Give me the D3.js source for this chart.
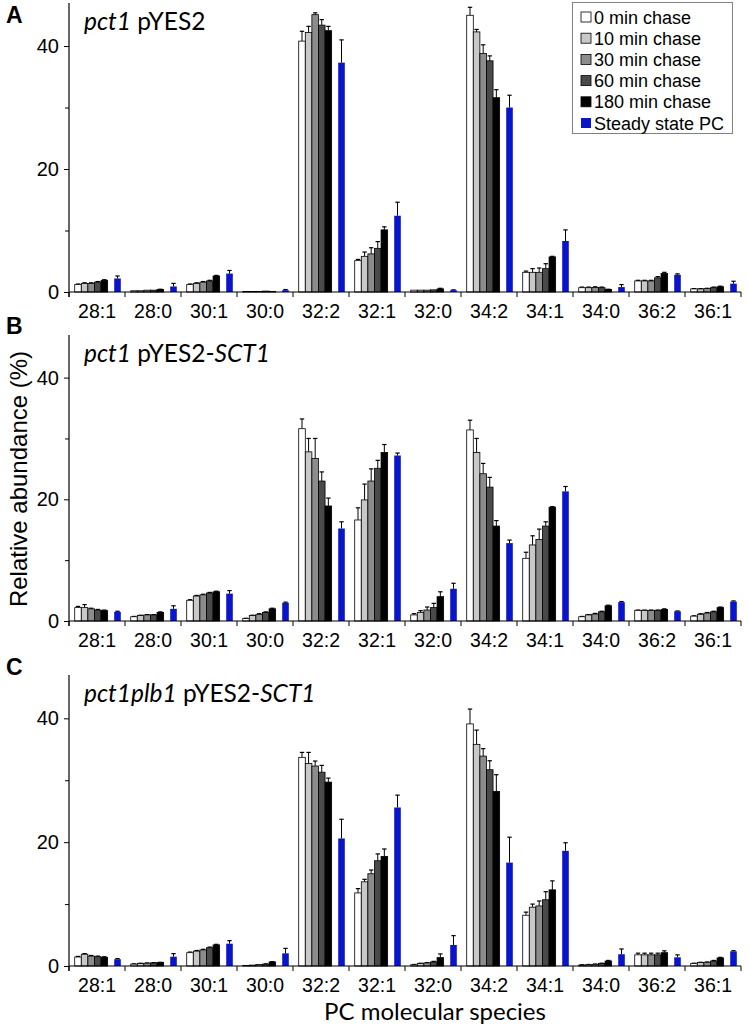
<!DOCTYPE html>
<html><head><meta charset="utf-8">
<script src="https://cdn.jsdelivr.net/npm/d3@7"></script>
<style>body{margin:0;background:#fff}</style>
</head><body>
<script>
const categories = ["28:1","28:0","30:1","30:0","32:2","32:1","32:0","34:2","34:1","34:0","36:2","36:1"];
const seriesNames = ["0 min chase","10 min chase","30 min chase","60 min chase","180 min chase","Steady state PC"];
const seriesColors = ["#ffffff","#c8c8c8","#8c8c8c","#4a4a4a","#000000","#0a14c8"];
const yTicks = [0, 20, 40];
const yMinorTicks = [10, 30];

// Panel A: pct1 pYES2
const A_min0   = [1.2, 0.2, 1.2, 0.1, 40.8, 5.1, 0.3, 45.0, 3.2, 0.7, 1.8, 0.5];
const A_min10  = [1.4, 0.2, 1.4, 0.1, 42.2, 5.8, 0.3, 42.3, 3.2, 0.7, 1.8, 0.5];
const A_min30  = [1.4, 0.3, 1.6, 0.1, 45.1, 6.2, 0.3, 38.8, 3.2, 0.75, 1.8, 0.55];
const A_min60  = [1.6, 0.3, 1.8, 0.15, 43.4, 7.1, 0.35, 37.6, 3.8, 0.7, 2.3, 0.7];
const A_min180 = [1.9, 0.4, 2.6, 0.1, 42.5, 10.1, 0.5, 31.6, 5.7, 0.4, 3.0, 0.85];
const A_steady = [2.2, 0.9, 3.0, 0.3, 37.3, 12.4, 0.3, 30.0, 8.3, 0.8, 2.8, 1.35];
const A_err0   = [0.1, 0, 0.1, 0, 1.6, 0.2, 0, 1.3, 0.2, 0.1, 0.1, 0.05];
const A_err10  = [0.1, 0, 0.1, 0, 1.0, 0.7, 0, 0.4, 0.6, 0.1, 0.1, 0.05];
const A_err30  = [0.1, 0, 0.1, 0, 0.3, 1.0, 0, 1.4, 0.7, 0.1, 0.1, 0.05];
const A_err60  = [0.1, 0, 0.1, 0, 0.9, 1.1, 0, 0.8, 0.8, 0.1, 0.2, 0.1];
const A_err180 = [0.1, 0.05, 0.1, 0, 0.7, 0.5, 0.1, 1.3, 0.1, 0.05, 0.2, 0.1];
const A_errS   = [0.4, 0.5, 0.5, 0.1, 3.7, 2.2, 0.05, 2.0, 1.8, 0.4, 0.15, 0.4];

// Panel B: pct1 pYES2-SCT1
const B_min0   = [2.2, 0.7, 3.4, 0.4, 31.6, 16.6, 1.0, 31.4, 10.3, 0.7, 1.75, 0.8];
const B_min10  = [2.2, 0.9, 4.1, 0.9, 27.8, 19.9, 1.4, 27.7, 12.5, 1.0, 1.75, 1.1];
const B_min30  = [2.0, 1.0, 4.3, 1.1, 26.7, 23.0, 1.8, 24.2, 13.4, 1.15, 1.75, 1.3];
const B_min60  = [1.8, 1.0, 4.6, 1.4, 23.0, 25.1, 2.2, 22.0, 15.6, 1.5, 1.75, 1.5];
const B_min180 = [1.7, 1.4, 4.8, 2.0, 18.9, 27.7, 4.0, 15.6, 18.7, 2.5, 1.9, 2.2];
const B_steady = [1.5, 2.0, 4.5, 3.0, 15.2, 27.2, 5.3, 12.8, 21.3, 3.1, 1.6, 3.2];
const B_err0   = [0.2, 0.05, 0.1, 0.05, 1.6, 2.0, 0.2, 1.6, 1.0, 0.05, 0.05, 0.05];
const B_err10  = [0.5, 0.05, 0.1, 0.05, 2.2, 2.6, 0.3, 2.3, 1.5, 0.05, 0.05, 0.1];
const B_err30  = [0.1, 0.05, 0.1, 0.1, 3.3, 2.0, 0.5, 1.7, 1.7, 0.1, 0.05, 0.1];
const B_err60  = [0.1, 0.05, 0.1, 0.1, 1.5, 1.3, 0.7, 1.6, 0.7, 0.1, 0.05, 0.1];
const B_err180 = [0.1, 0.1, 0.1, 0.1, 1.3, 1.3, 0.8, 0.9, 0.1, 0.1, 0.1, 0.1];
const B_errS   = [0.1, 0.5, 0.5, 0.1, 1.1, 0.4, 0.9, 0.5, 0.8, 0.1, 0.05, 0.1];

// Panel C: pct1plb1 pYES2-SCT1
const C_min0   = [1.45, 0.3, 2.15, 0.1, 33.7, 11.8, 0.2, 39.1, 8.2, 0.15, 1.8, 0.4];
const C_min10  = [1.9, 0.4, 2.4, 0.15, 32.7, 13.6, 0.4, 35.8, 9.5, 0.2, 1.8, 0.55];
const C_min30  = [1.6, 0.45, 2.6, 0.25, 32.3, 14.9, 0.5, 33.9, 9.7, 0.27, 1.8, 0.6];
const C_min60  = [1.5, 0.5, 2.95, 0.3, 31.3, 17.0, 0.65, 31.7, 10.7, 0.4, 1.8, 0.8];
const C_min180 = [1.4, 0.55, 3.4, 0.65, 29.7, 17.7, 1.35, 28.2, 12.3, 0.8, 2.15, 1.3];
const C_steady = [1.1, 1.5, 3.6, 2.05, 20.6, 25.6, 3.4, 16.7, 18.6, 1.9, 1.4, 2.37];
const C_err0   = [0.1, 0.05, 0.1, 0, 0.8, 0.7, 0.05, 2.4, 0.5, 0.05, 0.27, 0.05];
const C_err10  = [0.1, 0.05, 0.1, 0, 1.8, 0.4, 0.05, 2.3, 0.5, 0.05, 0.27, 0.05];
const C_err30  = [0.1, 0.05, 0.1, 0, 0.8, 0.6, 0.05, 1.2, 0.8, 0.05, 0.27, 0.05];
const C_err60  = [0.1, 0.05, 0.1, 0.05, 1.1, 1.1, 0.1, 1.45, 1.3, 0.05, 0.27, 0.1];
const C_err180 = [0.1, 0.05, 0.1, 0.05, 0.65, 1.2, 0.6, 2.7, 1.45, 0.1, 0.3, 0.1];
const C_errS   = [0.1, 0.5, 0.5, 0.8, 3.1, 2.0, 1.5, 4.1, 1.3, 0.85, 0.4, 0.1];

const panels = [
  {letter:"A", letterY:23, title:[["pct1",true],[" pYES2",false]], top:3, bottom:292,
   values:[A_min0,A_min10,A_min30,A_min60,A_min180,A_steady],
   errors:[A_err0,A_err10,A_err30,A_err60,A_err180,A_errS]},
  {letter:"B", letterY:334, title:[["pct1",true],[" pYES2-",false],["SCT1",true]], top:335, bottom:621,
   values:[B_min0,B_min10,B_min30,B_min60,B_min180,B_steady],
   errors:[B_err0,B_err10,B_err30,B_err60,B_err180,B_errS]},
  {letter:"C", letterY:675, title:[["pct1plb1",true],[" pYES2-",false],["SCT1",true]], top:675, bottom:966,
   values:[C_min0,C_min10,C_min30,C_min60,C_min180,C_steady],
   errors:[C_err0,C_err10,C_err30,C_err60,C_err180,C_errS]}
];

const W = 748, H = 1027;
const svg = d3.select("body").append("svg").attr("width", W).attr("height", H);
const tickFont = "'Liberation Sans', Arial, sans-serif";
const titleFont = "Lato, 'Open Sans', sans-serif";

const x0 = d3.scaleBand().domain(categories).range([69, 741]);
const bw = x0.bandwidth();
const slots = ["s0","s1","s2","s3","s4","gap","s5"];
const slotOf = [0,1,2,3,4,6];
const x1 = d3.scaleBand().domain(slots).range([0.102*bw, 0.925*bw]);

panels.forEach(p => {
  const y = d3.scaleLinear().domain([0, 47]).range([p.bottom, p.top]);
  const g = svg.append("g");

  p.values.forEach((vals, si) => {
    const color = seriesColors[si];
    const slot = slots[slotOf[si]];
    vals.forEach((v, ci) => {
      const bx = x0(categories[ci]) + x1(slot);
      const e = p.errors[si][ci];
      if (e > 0) {
        const cx = bx + x1.bandwidth()/2;
        g.append("line").attr("x1", cx).attr("x2", cx)
          .attr("y1", y(v)).attr("y2", y(v + e))
          .attr("stroke", "#000").attr("stroke-width", 1);
        g.append("line").attr("x1", cx - 2.2).attr("x2", cx + 2.2)
          .attr("y1", y(v + e)).attr("y2", y(v + e))
          .attr("stroke", "#000").attr("stroke-width", 1.2);
      }
      g.append("rect")
        .attr("x", bx).attr("width", x1.bandwidth())
        .attr("y", y(v)).attr("height", y(0) - y(v))
        .attr("fill", color)
        .attr("stroke", si < 5 ? "#000" : "none")
        .attr("stroke-width", 0.8);
    });
  });

  const yAxis = d3.axisLeft(y).tickValues(yTicks).tickSize(5).tickPadding(5).tickFormat(d3.format("d"));
  const ya = g.append("g").attr("transform", "translate(69,0)").call(yAxis);
  ya.select(".domain").remove();
  ya.selectAll("text").attr("font-family", tickFont).attr("font-size", 20).attr("fill", "#000");
  ya.selectAll("line").attr("stroke", "#000");
  const yMinor = d3.axisLeft(y).tickValues(yMinorTicks).tickSize(4).tickFormat("");
  const ym = g.append("g").attr("transform", "translate(69,0)").call(yMinor);
  ym.select(".domain").remove();
  ym.selectAll("line").attr("stroke", "#000");
  g.append("line").attr("x1", 69).attr("x2", 69).attr("y1", p.top).attr("y2", p.bottom + 5)
    .attr("stroke", "#000").attr("stroke-width", 1.2);

  const xAxis = d3.axisBottom(x0).tickSize(0).tickPadding(12);
  const xa = g.append("g").attr("transform", `translate(0,${p.bottom})`).call(xAxis);
  xa.select(".domain").remove();
  xa.selectAll("text").attr("font-family", tickFont).attr("font-size", 19.5).attr("fill", "#000");
  g.append("line").attr("x1", 69).attr("x2", 741).attr("y1", p.bottom).attr("y2", p.bottom)
    .attr("stroke", "#000").attr("stroke-width", 1.2);
  const bounds = categories.map(c => x0(c)).concat([x0.range()[1]]);
  g.selectAll(".bt").data(bounds).enter().append("line")
    .attr("x1", d => d).attr("x2", d => d)
    .attr("y1", p.bottom).attr("y2", p.bottom + 5)
    .attr("stroke", "#000").attr("stroke-width", 1);

  svg.append("text").attr("x", 6).attr("y", p.letterY)
    .attr("font-family", tickFont).attr("font-weight", "bold").attr("font-size", 23)
    .text(p.letter);

  const t = svg.append("text").attr("x", 84).attr("y", p.top + 27)
    .attr("font-family", titleFont).attr("font-size", 24.5).attr("fill", "#000");
  p.title.forEach(([s, it]) => {
    t.append("tspan").attr("font-style", it ? "italic" : "normal").text(s);
  });
});

const lg = svg.append("g");
lg.append("rect").attr("x", 572.5).attr("y", 2.5).attr("width", 160).attr("height", 131)
  .attr("fill", "#fff").attr("stroke", "#808080").attr("stroke-width", 1);
seriesNames.forEach((n, i) => {
  const cy = 17 + i * 21.2;
  lg.append("rect").attr("x", 581).attr("y", cy - 5).attr("width", 10).attr("height", 10)
    .attr("fill", seriesColors[i]).attr("stroke", i < 5 ? "#000" : "none").attr("stroke-width", 0.8);
  lg.append("text").attr("x", 594).attr("y", cy + 6.5)
    .attr("font-family", tickFont).attr("font-size", 18).text(n);
});

svg.append("text").attr("transform", "translate(27,479) rotate(-90)")
  .attr("text-anchor", "middle").attr("font-family", tickFont).attr("font-size", 24)
  .text("Relative abundance (%)");
svg.append("text").attr("x", 435).attr("y", 1020).attr("text-anchor", "middle")
  .attr("font-family", titleFont).attr("font-size", 24).text("PC molecular species");
</script>
</body></html>
